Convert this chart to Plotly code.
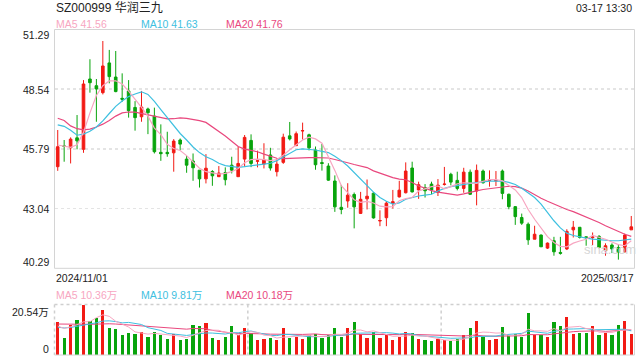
import plotly.graph_objects as go

# ---------------- data ----------------
dates = [
    "2024-11-01", "2024-11-04", "2024-11-05", "2024-11-06", "2024-11-07", "2024-11-08",
    "2024-11-11", "2024-11-12", "2024-11-13", "2024-11-14", "2024-11-15",
    "2024-11-18", "2024-11-19", "2024-11-20", "2024-11-21", "2024-11-22",
    "2024-11-25", "2024-11-26", "2024-11-27", "2024-11-28", "2024-11-29",
    "2024-12-02", "2024-12-03", "2024-12-04", "2024-12-05", "2024-12-06",
    "2024-12-09", "2024-12-10", "2024-12-11", "2024-12-12", "2024-12-13",
    "2024-12-16", "2024-12-17", "2024-12-18", "2024-12-19", "2024-12-20",
    "2024-12-23", "2024-12-24", "2024-12-25", "2024-12-26", "2024-12-27",
    "2024-12-30", "2024-12-31",
    "2025-01-02", "2025-01-03", "2025-01-06", "2025-01-07", "2025-01-08", "2025-01-09", "2025-01-10",
    "2025-01-13", "2025-01-14", "2025-01-15", "2025-01-16", "2025-01-17",
    "2025-01-20", "2025-01-21", "2025-01-22", "2025-01-23", "2025-01-24", "2025-01-27",
    "2025-02-05", "2025-02-06", "2025-02-07",
    "2025-02-10", "2025-02-11", "2025-02-12", "2025-02-13", "2025-02-14",
    "2025-02-17", "2025-02-18", "2025-02-19", "2025-02-20", "2025-02-21",
    "2025-02-24", "2025-02-25", "2025-02-26", "2025-02-27", "2025-02-28",
    "2025-03-03", "2025-03-04", "2025-03-05", "2025-03-06", "2025-03-07",
    "2025-03-10", "2025-03-11", "2025-03-12", "2025-03-13", "2025-03-14", "2025-03-17",
]

open_ = [44.97, 45.93, 45.84, 46.30, 45.77, 49.01, 48.70, 48.38, 49.75, 49.10,
         48.12, 48.46, 47.70, 47.27, 47.63, 47.30, 45.63, 45.63, 45.61, 46.20,
         45.32, 45.23, 44.81, 44.41, 44.75, 44.51, 44.70, 45.04, 44.51, 45.32,
         46.18, 45.22, 45.09, 45.51, 44.74, 45.17, 46.39, 45.94, 46.62, 46.44,
         45.74, 45.16, 45.00, 44.31, 43.10, 43.39, 43.69, 42.82, 43.49, 43.75,
         42.47, 42.62, 43.28, 43.58, 43.77, 44.91, 43.90, 44.01, 44.17, 43.78,
         44.15, 44.62, 44.34, 43.97, 44.72, 43.85, 44.77, 44.34, 44.31, 44.77,
         43.70, 43.13, 42.63, 42.32, 41.63, 41.82, 41.22, 41.56, 41.02, 41.18,
         42.06, 42.18, 41.74, 41.70, 41.76, 41.10, 41.36, 41.25, 41.05, 42.06]
high = [46.66, 46.20, 46.32, 47.35, 48.96, 49.92, 49.01, 50.76, 50.35, 50.30,
        49.27, 48.96, 47.99, 48.46, 47.69, 47.69, 46.92, 46.58, 46.24, 46.27,
        45.46, 45.58, 44.81, 45.55, 44.81, 45.00, 44.94, 45.43, 45.89, 46.43,
        46.46, 45.71, 46.05, 45.84, 45.35, 46.49, 47.03, 46.59, 47.00, 46.49,
        45.90, 46.02, 45.13, 44.57, 44.13, 44.21, 43.78, 43.81, 44.38, 43.81,
        42.96, 43.39, 43.90, 44.32, 45.17, 45.20, 44.28, 44.17, 44.28, 44.40,
        44.96, 44.69, 44.74, 44.92, 44.84, 45.07, 44.84, 44.80, 44.77, 44.84,
        43.73, 43.16, 42.81, 42.40, 42.25, 41.85, 41.48, 41.74, 41.74, 42.09,
        42.47, 42.18, 41.76, 41.94, 41.82, 41.44, 41.44, 41.40, 41.89, 42.70]
low = [44.78, 45.20, 45.12, 45.77, 45.61, 48.38, 47.04, 48.30, 48.81, 48.40,
       47.96, 47.23, 46.63, 47.04, 46.47, 45.58, 45.24, 45.43, 44.74, 45.74,
       44.69, 44.32, 44.01, 44.20, 44.09, 44.51, 44.11, 44.66, 44.51, 44.97,
       44.95, 44.94, 44.89, 44.79, 44.52, 45.10, 46.18, 45.92, 46.22, 45.72,
       44.83, 44.79, 44.32, 42.89, 42.78, 43.08, 42.13, 42.79, 43.00, 42.58,
       42.23, 42.23, 43.04, 43.55, 43.74, 43.78, 43.49, 43.55, 43.70, 43.62,
       44.10, 44.11, 43.88, 43.77, 43.67, 43.19, 44.19, 44.05, 44.08, 43.47,
       43.01, 42.29, 42.29, 41.37, 41.63, 41.28, 41.18, 40.87, 40.92, 41.13,
       41.71, 41.66, 41.33, 41.36, 41.21, 40.87, 40.99, 40.69, 41.02, 42.06]
close = [45.89, 45.90, 46.24, 46.16, 48.78, 48.84, 48.55, 49.61, 49.12, 48.43,
         48.08, 47.55, 47.23, 47.72, 47.46, 45.66, 45.57, 45.57, 46.15, 46.01,
         45.04, 44.92, 44.41, 44.90, 44.55, 44.68, 44.37, 44.81, 45.12, 46.32,
         45.12, 45.24, 45.28, 44.91, 45.09, 46.33, 46.25, 46.49, 46.63, 45.84,
         45.06, 45.12, 44.35, 43.12, 43.00, 43.66, 43.12, 43.47, 43.61, 42.61,
         42.49, 43.29, 43.36, 43.89, 44.77, 43.81, 44.14, 43.86, 43.90, 44.12,
         44.17, 44.26, 43.97, 44.72, 43.70, 44.80, 44.23, 44.36, 44.33, 43.74,
         43.13, 42.67, 42.37, 41.60, 41.86, 41.28, 41.45, 41.05, 40.98, 41.99,
         42.18, 41.71, 41.70, 41.73, 41.25, 41.33, 41.18, 41.02, 41.82, 42.20]

ma5 = [45.97, 45.90, 45.86, 45.98, 46.55, 47.45, 48.25, 48.70, 48.92, 48.93,
       48.78, 48.45, 48.10, 47.70, 47.30, 46.75, 46.45, 46.00, 45.81, 45.72,
       45.48, 45.18, 44.90, 44.74, 44.69, 44.63, 44.66, 44.74, 44.89, 45.15,
       45.30, 45.32, 45.30, 45.25, 45.30, 45.50, 45.75, 45.98, 46.20, 46.33,
       46.25, 46.05, 45.45, 44.80, 44.10, 43.75, 43.45, 43.33, 43.37, 43.30,
       43.15, 43.12, 43.13, 43.40, 43.50, 43.55, 43.85, 43.95, 44.05, 44.08,
       43.95, 44.05, 44.18, 44.23, 44.20, 44.20, 44.30, 44.38, 44.38, 44.32,
       44.10, 43.90, 43.55, 43.00, 42.55, 42.15, 41.75, 41.48, 41.30, 41.28,
       41.45, 41.55, 41.63, 41.80, 41.72, 41.63, 41.50, 41.38, 41.33, 41.56]
ma10 = [46.90, 46.83, 46.65, 46.42, 46.47, 46.60, 46.80, 47.08, 47.42, 47.75,
        48.00, 48.20, 48.32, 48.42, 48.30, 47.98, 47.60, 47.22, 46.84, 46.50,
        46.20, 45.88, 45.62, 45.43, 45.30, 45.13, 45.02, 44.97, 44.94, 44.97,
        45.00, 45.05, 45.09, 45.13, 45.25, 45.42, 45.58, 45.75, 45.79, 45.78,
        45.74, 45.68, 45.62, 45.45, 45.25, 45.00, 44.70, 44.40, 44.08, 43.80,
        43.55, 43.38, 43.25, 43.30, 43.47, 43.55, 43.62, 43.66, 43.70, 43.85,
        43.97, 44.05, 44.11, 44.16, 44.20, 44.24, 44.28, 44.31, 44.31, 44.31,
        44.25, 44.15, 43.98, 43.78, 43.55, 43.25, 42.85, 42.48, 42.15, 41.91,
        41.80, 41.73, 41.68, 41.63, 41.60, 41.57, 41.56, 41.56, 41.58, 41.63]
ma20 = [47.20, 47.10, 46.85, 46.72, 46.67, 46.70, 46.80, 46.93, 47.10, 47.30,
        47.45, 47.49, 47.48, 47.42, 47.38, 47.31, 47.25, 47.17, 47.18, 47.22,
        47.20, 47.15, 47.09, 47.01, 46.81, 46.60, 46.38, 46.14, 45.90, 45.78,
        45.73, 45.66, 45.55, 45.47, 45.36, 45.34, 45.36, 45.38, 45.39, 45.39,
        45.39, 45.38, 45.37, 45.30, 45.24, 45.15, 45.07, 45.00, 44.93, 44.78,
        44.68, 44.55, 44.47, 44.40, 44.37, 44.24, 44.08, 43.98, 43.87, 43.80,
        43.76, 43.70, 43.66, 43.72, 43.80, 43.86, 43.92, 43.96, 44.00, 44.05,
        44.07, 44.05, 43.98, 43.85, 43.68, 43.52, 43.38, 43.25, 43.14, 43.00,
        42.90, 42.78, 42.65, 42.52, 42.40, 42.25, 42.12, 41.98, 41.86, 41.76]

# volume in units of 万
volume = [13.4, 7.0, 12.4, 14.1, 20.54, 13.7, 15.1, 18.3, 11.0, 10.5,
          8.0, 9.0, 8.5, 9.5, 7.5, 9.5, 8.0, 6.5, 8.5, 6.0,
          6.5, 12.4, 11.6, 13.2, 7.0, 6.0, 7.5, 12.0, 8.0, 10.9,
          9.0, 6.0, 6.5, 7.0, 6.0, 10.8, 7.0, 7.5, 6.5, 8.0,
          8.5, 7.0, 8.0, 10.8, 7.5, 10.8, 13.3, 8.5, 7.0, 9.5,
          7.0, 8.5, 6.0, 7.5, 9.5, 9.0, 6.5, 6.0, 5.5, 6.5,
          6.0, 5.5, 6.5, 8.0, 10.9, 13.7, 7.5, 6.0, 6.5, 11.3,
          8.0, 8.5, 7.5, 17.1, 8.0, 8.0, 7.5, 13.3, 12.0, 15.4,
          8.5, 9.0, 8.8, 12.0, 8.0, 9.0, 8.0, 12.4, 13.7, 8.7]
vol_ma5 = [11.8, 10.8, 11.5, 12.3, 13.49, 13.55, 15.17, 16.35, 15.73, 13.72,
           12.58, 11.36, 9.40, 9.10, 8.50, 8.80, 8.60, 8.20, 8.00, 7.70,
           7.10, 7.98, 9.00, 9.94, 10.14, 10.04, 9.06, 9.14, 8.10, 8.88,
           9.48, 9.18, 8.08, 7.88, 6.90, 7.26, 7.46, 7.66, 7.56, 7.96,
           7.50, 7.50, 7.60, 8.46, 8.36, 8.82, 10.08, 10.18, 9.42, 9.82,
           9.06, 8.10, 7.60, 7.70, 7.70, 8.10, 7.70, 7.70, 7.30, 6.70,
           6.10, 5.90, 6.00, 6.50, 7.38, 8.92, 9.32, 9.22, 8.92, 9.00,
           7.86, 8.06, 8.36, 10.48, 9.82, 9.82, 9.62, 10.78, 9.76, 11.24,
           11.34, 11.64, 10.74, 10.74, 9.26, 9.36, 9.16, 9.88, 10.22, 10.36]
vol_ma10 = [11.3, 11.0, 11.2, 11.6, 12.3, 12.6, 13.1, 13.8, 13.9, 13.60,
            13.06, 13.26, 12.87, 12.41, 11.11, 10.69, 9.98, 8.80, 8.55, 8.10,
            7.95, 8.29, 8.60, 8.97, 8.92, 8.57, 8.52, 9.07, 9.02, 9.51,
            9.76, 9.12, 8.61, 7.99, 7.89, 8.37, 8.32, 7.87, 7.72, 7.43,
            7.38, 7.48, 7.63, 8.01, 8.16, 8.16, 8.79, 8.89, 8.94, 9.09,
            8.94, 9.09, 8.89, 8.56, 8.76, 8.58, 7.90, 7.65, 7.50, 7.20,
            7.10, 6.80, 6.85, 6.90, 7.04, 7.51, 7.61, 7.61, 7.71, 8.19,
            8.39, 8.69, 8.79, 9.70, 9.41, 8.84, 8.84, 9.57, 10.12, 10.53,
            10.58, 10.63, 10.76, 10.25, 10.25, 10.35, 10.40, 10.31, 10.48, 9.81]
vol_ma20 = [12.6, 12.5, 12.5, 12.4, 12.5, 12.5, 12.6, 12.8, 12.7, 12.6,
            12.4, 12.3, 12.1, 11.9, 11.7, 11.5, 11.3, 11.1, 11.0, 10.85,
            10.51, 10.78, 10.74, 10.69, 10.02, 9.63, 9.25, 8.94, 8.79, 8.81,
            8.86, 8.71, 8.61, 8.48, 8.41, 8.47, 8.42, 8.47, 8.37, 8.47,
            8.57, 8.30, 8.12, 8.00, 8.03, 8.27, 8.56, 8.38, 8.33, 8.26,
            8.16, 8.29, 8.26, 8.29, 8.46, 8.37, 8.35, 8.27, 8.22, 8.15,
            8.02, 7.95, 7.87, 7.73, 7.90, 8.05, 7.76, 7.63, 7.61, 7.70,
            7.75, 7.75, 7.82, 8.30, 8.23, 8.18, 8.23, 8.59, 8.92, 9.36,
            9.49, 9.66, 9.78, 9.98, 9.83, 9.60, 9.62, 9.94, 10.30, 10.17]

price_ticks = [51.29, 48.54, 45.79, 43.04, 40.29]
vol_max = 20.54
title_text = "SZ000999 华润三九"
time_text = "03-17 13:30"
legend_price = ["MA5 41.56", "MA10 41.63", "MA20 41.76"]
legend_vol = ["MA5 10.36万", "MA10 9.81万", "MA20 10.18万"]
date_labels = ["2024/11/01", "2025/03/17"]

# ---------------- style ----------------
RED = "#f21a14"
GREEN = "#08a40c"
C_MA5 = "#f7a6c1"
C_MA10 = "#3ec0e0"
C_MA20 = "#e9487e"
FONT = "Arial, 'Liberation Sans', 'Noto Sans CJK SC', sans-serif"
W, H = 640, 360
X0, X1 = 54.5, 634.5
P_TOP, P_BOT = 29.5, 268.3
V_TOP, V_BOT = 304.5, 355.0


def fx(px):
    return px / W


def fy(py):
    return (H - py) / H


fig = go.Figure()

fig.add_trace(go.Candlestick(
    x=dates, open=open_, high=high, low=low, close=close,
    increasing=dict(line=dict(color=RED, width=1), fillcolor=RED),
    decreasing=dict(line=dict(color=GREEN, width=1), fillcolor=GREEN),
    whiskerwidth=0, xaxis="x", yaxis="y", hoverinfo="skip", showlegend=False,
))
for ser, col in ((ma20, C_MA20), (ma10, C_MA10), (ma5, C_MA5)):
    fig.add_trace(go.Scatter(x=dates, y=ser, mode="lines",
                             line=dict(color=col, width=1.2),
                             xaxis="x", yaxis="y", hoverinfo="skip", showlegend=False))

bar_colors = [RED if c >= o else GREEN for o, c in zip(open_, close)]
fig.add_trace(go.Bar(x=dates, y=volume, marker=dict(color=bar_colors, line=dict(width=0)),
                     width=0.5, xaxis="x2", yaxis="y2", hoverinfo="skip", showlegend=False))
for ser, col in ((vol_ma20, C_MA20), (vol_ma10, C_MA10), (vol_ma5, C_MA5)):
    fig.add_trace(go.Scatter(x=dates, y=ser, mode="lines",
                             line=dict(color=col, width=1),
                             xaxis="x2", yaxis="y2", hoverinfo="skip", showlegend=False))

xr = [-0.5, len(dates) - 0.5]
common_x = dict(type="category", range=xr, showticklabels=False, showgrid=False,
                zeroline=False, showline=False, ticks="", fixedrange=True,
                rangeslider=dict(visible=False), domain=[fx(X0), fx(X1)])
fig.update_layout(
    width=W, height=H, margin=dict(l=0, r=0, t=0, b=0),
    paper_bgcolor="white", plot_bgcolor="white",
    font=dict(family=FONT, size=11, color="#333"),
    boxgap=0.42, bargap=0,
    xaxis=dict(**common_x, anchor="y"),
    xaxis2=dict(**common_x, anchor="y2", matches="x"),
    yaxis=dict(range=[price_ticks[-1], price_ticks[0]], domain=[fy(P_BOT), fy(P_TOP)],
               tickvals=price_ticks[1:-1], showticklabels=False, ticks="",
               showgrid=True, gridcolor="#e4e4e4", gridwidth=1.5, griddash="dot",
               zeroline=False, showline=False, fixedrange=True),
    yaxis2=dict(range=[0, vol_max], domain=[fy(V_BOT), fy(V_TOP)],
                showticklabels=False, ticks="", showgrid=False,
                zeroline=False, showline=False, fixedrange=True),
    hovermode=False,
)

shapes = []
# price frame
shapes.append(dict(type="rect", xref="paper", yref="paper",
                   x0=fx(X0), x1=fx(X1), y0=fy(P_BOT), y1=fy(P_TOP),
                   line=dict(color="#d4d4d4", width=1), layer="above"))
# volume frame
dot = dict(color="#cfcfcf", width=1.5, dash="dot")
shapes.append(dict(type="line", xref="paper", yref="paper", x0=fx(X0), x1=fx(X1),
                   y0=fy(V_TOP), y1=fy(V_TOP), line=dot))
shapes.append(dict(type="line", xref="paper", yref="paper", x0=fx(X0), x1=fx(X0),
                   y0=fy(V_TOP), y1=fy(V_BOT), line=dot))
for frac in (1 / 3, 2 / 3):
    xx = X0 + (X1 - X0) * frac
    shapes.append(dict(type="line", xref="paper", yref="paper", x0=fx(xx), x1=fx(xx),
                       y0=fy(V_TOP), y1=fy(V_BOT), line=dot, layer="below"))
shapes.append(dict(type="line", xref="paper", yref="paper", x0=fx(X1), x1=fx(X1),
                   y0=fy(V_TOP), y1=fy(V_BOT), line=dict(color="#d4d4d4", width=1)))
shapes.append(dict(type="line", xref="paper", yref="paper", x0=fx(X0), x1=fx(X1),
                   y0=fy(V_BOT), y1=fy(V_BOT), line=dict(color="#d4d4d4", width=1)))
fig.update_layout(shapes=shapes)

ann = []


def add(text, px, py, xanchor="left", size=10.5, color="#333"):
    ann.append(dict(text=text, x=fx(px), y=fy(py), xref="paper", yref="paper",
                    xanchor=xanchor, yanchor="middle", showarrow=False,
                    font=dict(size=size, color=color, family=FONT)))


add(title_text, 54, 8, size=12, color="#222")
add(time_text, 634, 8, xanchor="right", size=10.5, color="#222")
for txt, px, col in zip(legend_price, (54, 139, 224), (C_MA5, C_MA10, C_MA20)):
    add(txt, px, 24, color=col)
for txt, px, col in zip(legend_vol, (54, 139, 224), (C_MA5, C_MA10, C_MA20)):
    add(txt, px, 295, color=col)
label_y = [35, 89.5, 149, 209, 262]
for v, py in zip(price_ticks, label_y):
    add(f"{v:.2f}", 51, py, xanchor="right", color="#222")
add(date_labels[0], 54, 278, color="#222")
add(date_labels[1], 636, 278, xanchor="right", color="#222")
add(f"{vol_max:.2f}万", 51, 312, xanchor="right", color="#222")
add("0", 51, 349, xanchor="right", color="#222")
add("sina.com", 582, 249, size=13, color="#d6d6d6")
fig.update_layout(annotations=ann)

fig.write_html("out.html", config=dict(displayModeBar=False, staticPlot=True),
               post_script="document.body.style.margin='0';")
